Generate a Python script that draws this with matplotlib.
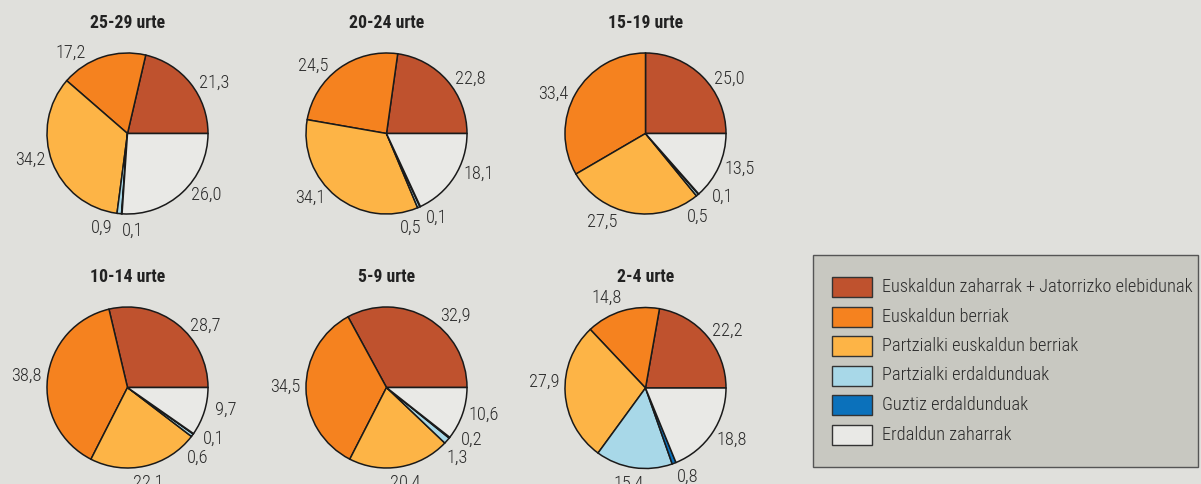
import matplotlib

matplotlib.use("Agg")
import matplotlib.pyplot as plt
import numpy as np
from matplotlib.patches import Rectangle

plt.rcParams["font.family"] = ["Roboto Condensed", "Archivo Narrow", "DejaVu Sans"]

# data
groups = ["25-29 urte", "20-24 urte", "15-19 urte", "10-14 urte", "5-9 urte", "2-4 urte"]
categories = [
    "Euskaldun zaharrak + Jatorrizko elebidunak",
    "Euskaldun berriak",
    "Partzialki euskaldun berriak",
    "Partzialki erdaldunduak",
    "Guztiz erdaldunduak",
    "Erdaldun zaharrak",
]
shares_25_29 = [21.3, 17.2, 34.2, 0.9, 0.1, 26.0]
shares_20_24 = [22.8, 24.5, 34.1, 0.5, 0.1, 18.1]
shares_15_19 = [25.0, 33.4, 27.5, 0.5, 0.1, 13.5]
shares_10_14 = [28.7, 38.8, 22.1, 0.6, 0.1, 9.7]
shares_5_9 = [32.9, 34.5, 20.4, 1.3, 0.2, 10.6]
shares_2_4 = [22.2, 14.8, 27.9, 15.4, 0.8, 18.8]
all_shares = [shares_25_29, shares_20_24, shares_15_19, shares_10_14, shares_5_9, shares_2_4]

# style
COLORS = ["#bf522e", "#f5821f", "#fdb446", "#a8d8e8", "#0b71bb", "#e9e9e6"]
BG = "#e0e0dc"
TEXT = "#2a2a2a"
W, H = 1201, 484
R = 80.5
CENTERS = [(127.5, 133.5), (386.5, 133.5), (645.5, 133.5),
           (127.5, 387.5), (386.5, 387.5), (645.5, 388.0)]
# small angular nudges (deg) so labels sit where the original puts them
NUDGES = [
    [-7, 16, -5, -9, 7, 8],
    [-7, 10, -10, -10, 5, 8],
    [-11, 6, -15, -9, 8, 3],
    [-12, 0, -1, -10, 3, 4],
    [-12, -1, 1, -5, 6, 3],
    [-4, 6, -7, -1, 4, 2],
]


def fmt(v: float) -> str:
    return f"{v:.1f}".replace(".", ",")


def draw_pie(ax, shares, center, nudges, title):
    cx, cy_img = center
    cy = H - cy_img
    wedges, _ = ax.pie(
        shares,
        colors=COLORS,
        center=(cx, cy),
        radius=R,
        startangle=0,
        counterclock=True,
        wedgeprops=dict(edgecolor="#1a1a1a", linewidth=1.1),
    )
    for w, v, n in zip(wedges, shares, nudges):
        mid = np.deg2rad((w.theta1 + w.theta2) / 2 + n)
        c, s = np.cos(mid), np.sin(mid)
        x = cx + 1.12 * R * c + 0.14 * R * c
        y = cy + 1.12 * R * s + 0.09 * R * s
        ax.text(x, y, fmt(v), ha="center", va="center", fontsize=13.2,
                color=TEXT, fontweight="light")
    ax.text(cx, H - (cy_img - 111), title, ha="center", va="center",
            fontsize=12.8, fontweight="bold", color="#222222")


def draw_legend(ax):
    ax.add_patch(Rectangle((813, H - 467), 385, 212, facecolor="#c8c8c1",
                           edgecolor="#555555", linewidth=1.0))
    for i, (name, col) in enumerate(zip(categories, COLORS)):
        top = 277 + i * 29.5
        ax.add_patch(Rectangle((832, H - top - 20), 40, 20, facecolor=col,
                               edgecolor="#333333", linewidth=1.0))
        ax.text(882, H - top - 10, name, ha="left", va="center",
                fontsize=13.2, color=TEXT, fontweight="light")


def main() -> None:
    fig = plt.figure(figsize=(W / 100, H / 100), dpi=100, facecolor=BG)
    ax = fig.add_axes([0, 0, 1, 1])
    ax.set_facecolor(BG)

    for shares, center, nudges, title in zip(all_shares, CENTERS, NUDGES, groups):
        draw_pie(ax, shares, center, nudges, title)
    draw_legend(ax)

    ax.set_xlim(0, W)
    ax.set_ylim(0, H)
    ax.set_aspect("equal")
    ax.axis("off")
    fig.savefig("out.png", dpi=100, facecolor=BG)


if __name__ == "__main__":
    main()
